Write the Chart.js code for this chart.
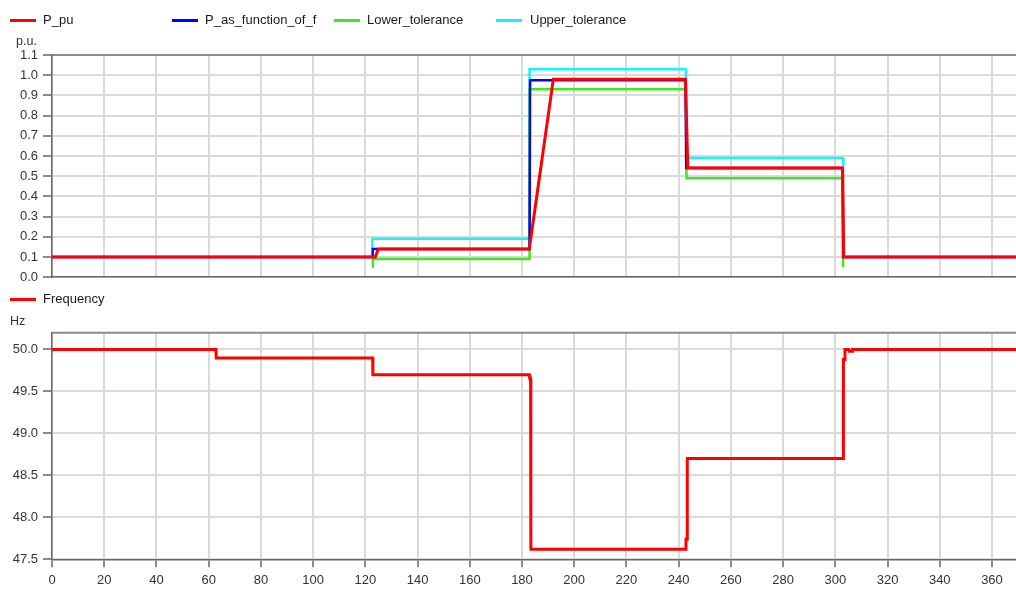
<!DOCTYPE html>
<html>
<head>
<meta charset="utf-8">
<script src="https://cdn.jsdelivr.net/npm/chart.js@4.4.1/dist/chart.umd.min.js"></script>
<style>
  body { margin: 0; background: #fff; font-family: "Liberation Sans", Arial, sans-serif; }
  #wrap { position: relative; width: 1016px; height: 606px; overflow: hidden; }
  .sw { position: absolute; width: 26px; height: 3px; }
  .lt { position: absolute; font-size: 13px; line-height: 16px; color: #1a1a1a; white-space: nowrap; }
  .unit { position: absolute; font-size: 12.5px; line-height: 14px; color: #333; }
  #topBox { position: absolute; left: 0; top: 0; width: 1016px; height: 290px; }
  #botBox { position: absolute; left: 0; top: 290px; width: 1016px; height: 316px; }
</style>
</head>
<body>
<div id="wrap">
  <div id="topBox"><canvas id="topChart"></canvas></div>
  <div id="botBox"><canvas id="botChart"></canvas></div>

  <div class="sw" style="left:10px;top:19px;background:#ff0000"></div>
  <div class="lt" style="left:43px;top:12px">P_pu</div>
  <div class="sw" style="left:172px;top:19px;background:#0000ff"></div>
  <div class="lt" style="left:205px;top:12px">P_as_function_of_f</div>
  <div class="sw" style="left:334px;top:19px;background:#3de81e"></div>
  <div class="lt" style="left:367px;top:12px">Lower_tolerance</div>
  <div class="sw" style="left:496px;top:19px;background:#18f4f4"></div>
  <div class="lt" style="left:530px;top:12px">Upper_tolerance</div>
  <div class="unit" style="left:16px;top:34px">p.u.</div>

  <div class="sw" style="left:10px;top:298px;background:#ff0000"></div>
  <div class="lt" style="left:43px;top:291px">Frequency</div>
  <div class="unit" style="left:10px;top:314px">Hz</div>
</div>
<script>
// time axis (s)
const xMax = 369.2;
const xTickStep = 20;

// top panel, p.u.
const pPuT = [0, 123.8, 125.0, 182.8, 192.0, 242.6, 243.5, 302.8, 303.2, xMax];
const pPuV = [0.1, 0.1, 0.14, 0.14, 0.98, 0.98, 0.54, 0.54, 0.1, 0.1];

const pfT = [0, 122.6, 122.8, 182.9, 183.1, 242.6, 242.9, 302.8, 303.0, xMax];
const pfV = [0.1, 0.1, 0.14, 0.14, 0.975, 0.975, 0.54, 0.54, 0.1, 0.1];

const lowT = [122.7, 122.9, 182.8, 182.9, 242.8, 243.0, 302.9, 303.0];
const lowV = [0.05, 0.09, 0.09, 0.93, 0.93, 0.49, 0.49, 0.05];

const upT = [122.7, 122.7, 182.8, 182.9, 242.8, 243.0, 303.0, 303.1];
const upV = [0.14, 0.19, 0.19, 1.03, 1.03, 0.59, 0.59, 0.55];

// bottom panel, Hz
const freqT = [0, 62.8, 62.9, 122.8, 122.9, 182.8, 183.0, 183.3, 183.4, 242.6, 242.8, 243.2, 243.3, 303.0, 303.1, 303.6, 303.7, 305.2, 305.4, 306.4, 306.6, xMax];
const freqV = [50.0, 50.0, 49.9, 49.9, 49.7, 49.7, 49.65, 49.65, 47.62, 47.62, 47.74, 47.74, 48.7, 48.7, 49.88, 49.88, 50.0, 50.0, 49.98, 49.98, 50.0, 50.0];

function pts(ts, vs) {
    return ts.map((t, i) => ({ x: t, y: vs[i] }));
}

const tickFont = { family: "'Liberation Sans', Arial, sans-serif", size: 13 };
const gridCol = '#dadada';

// gray frame line on top of the plot area
const topFrame = {
    id: 'topFrame',
    beforeDatasetsDraw(chart) {
        const a = chart.chartArea;
        const ctx = chart.ctx;
        ctx.save();
        ctx.strokeStyle = '#8c8c8c';
        ctx.lineWidth = 2;
        ctx.beginPath();
        ctx.moveTo(a.left, a.top);
        ctx.lineTo(a.right, a.top);
        ctx.stroke();
        ctx.restore();
    }
};

function lineSet(label, data, color, w) {
    return {
        label: label,
        data: data,
        borderColor: color,
        backgroundColor: color,
        borderWidth: w,
        pointRadius: 0,
        tension: 0,
        fill: false
    };
}

function xScale(showLabels) {
    return {
        type: 'linear',
        min: 0,
        max: xMax,
        afterFit: (s) => { s.height = showLabels ? 46.7 : 0; },
        ticks: {
            display: showLabels,
            stepSize: xTickStep,
            includeBounds: false,
            color: '#333',
            font: tickFont,
            padding: 5,
            maxRotation: 0,
            autoSkip: false
        },
        grid: {
            color: gridCol,
            lineWidth: 2,
            drawTicks: showLabels,
            tickLength: 8,
            tickColor: '#666',
            tickWidth: 1.5
        },
        border: { color: '#666', width: 1.5 }
    };
}

function yScale(min, max, step, digits) {
    return {
        min: min,
        max: max,
        afterFit: (s) => { s.width = 52; },
        ticks: {
            stepSize: step,
            includeBounds: false,
            color: '#333',
            font: tickFont,
            padding: 5,
            callback: (v) => Number(v).toFixed(digits)
        },
        grid: {
            color: gridCol,
            lineWidth: 2,
            tickLength: 9,
            tickColor: '#666',
            tickWidth: 1.5
        },
        border: { color: '#666', width: 1.5 }
    };
}

let topChart = new Chart(document.getElementById('topChart'), {
    type: 'line',
    data: {
        datasets: [
            lineSet('P_pu', pts(pPuT, pPuV), '#ff0000', 3),
            lineSet('P_as_function_of_f', pts(pfT, pfV), '#0000ff', 2.5),
            lineSet('Lower_tolerance', pts(lowT, lowV), '#3de81e', 2.5),
            lineSet('Upper_tolerance', pts(upT, upV), '#18f4f4', 2.5)
        ]
    },
    options: {
        animation: false,
        responsive: true,
        maintainAspectRatio: false,
        layout: { padding: { top: 55, bottom: 10, left: 0, right: 0 } },
        plugins: { legend: { display: false }, tooltip: { enabled: false } },
        scales: {
            x: xScale(false),
            y: yScale(0, 1.1, 0.1, 1)
        }
    },
    plugins: [topFrame]
});

let botChart = new Chart(document.getElementById('botChart'), {
    type: 'line',
    data: {
        datasets: [
            lineSet('Frequency', pts(freqT, freqV), '#ff0000', 3)
        ]
    },
    options: {
        animation: false,
        responsive: true,
        maintainAspectRatio: false,
        layout: { padding: { top: 42.7, bottom: 0, left: 0, right: 0 } },
        plugins: { legend: { display: false }, tooltip: { enabled: false } },
        scales: {
            x: xScale(true),
            y: yScale(47.5, 50.2, 0.5, 1)
        }
    },
    plugins: [topFrame]
});
</script>
</body>
</html>
